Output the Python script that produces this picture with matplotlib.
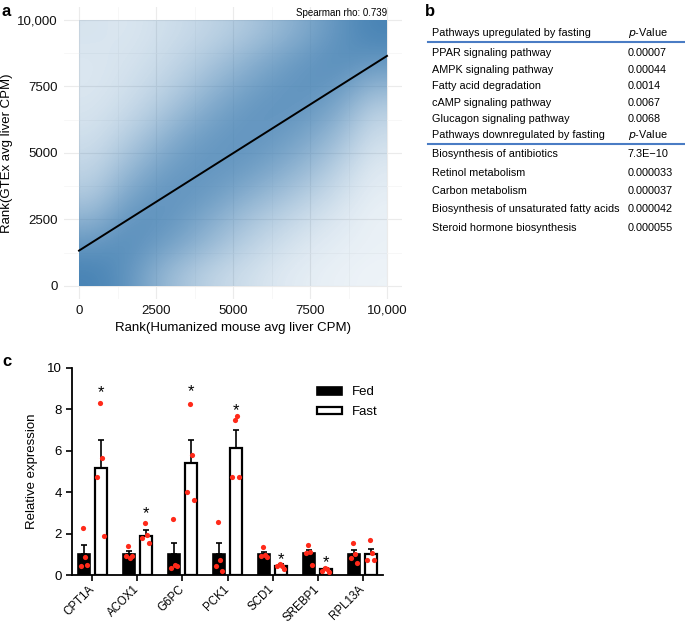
import numpy as np
import matplotlib
matplotlib.use("Agg")
import matplotlib.pyplot as plt
from matplotlib.colors import LinearSegmentedColormap

plt.rcParams['font.family'] = ['Liberation Sans', 'DejaVu Sans']

# ---- panel a: rank-rank density (points per 1000x1000 cell)
# rows from top (rank 9000-10000) to bottom (0-1000), columns x 0-1000 ... 9000-10000
rank_density = np.array([
    [25, 22, 28, 35, 45, 60, 85, 125, 200, 430],
    [22, 25, 32, 45, 65, 95, 135, 185, 235, 190],
    [22, 28, 40, 60, 95, 135, 180, 205, 170, 90],
    [25, 35, 55, 90, 135, 180, 195, 165, 105, 45],
    [30, 50, 85, 135, 175, 190, 160, 115, 70, 30],
    [40, 75, 125, 175, 185, 160, 115, 80, 45, 20],
    [55, 115, 180, 190, 150, 105, 75, 50, 30, 15],
    [95, 185, 210, 150, 100, 65, 45, 30, 20, 12],
    [190, 240, 160, 110, 70, 45, 30, 20, 15, 12],
    [480, 210, 100, 60, 40, 30, 20, 15, 12, 10],
])
fit_intercept = 1330
fit_slope = 0.732
spearman_rho = 0.739

# ---- panel b: pathway table
up_pathways = ["PPAR signaling pathway", "AMPK signaling pathway", "Fatty acid degradation",
               "cAMP signaling pathway", "Glucagon signaling pathway"]
up_pvals = ["0.00007", "0.00044", "0.0014", "0.0067", "0.0068"]
down_pathways = ["Biosynthesis of antibiotics", "Retinol metabolism", "Carbon metabolism",
                 "Biosynthesis of unsaturated fatty acids", "Steroid hormone biosynthesis"]
down_pvals = ["7.3E\u221210", "0.000033", "0.000037", "0.000042", "0.000055"]

# ---- panel c: qPCR
genes = ["CPT1A", "ACOX1", "G6PC", "PCK1", "SCD1", "SREBP1", "RPL13A"]
fed_mean = [1.0, 1.0, 1.0, 1.0, 1.0, 1.05, 1.0]
fed_err = [0.45, 0.15, 0.55, 0.52, 0.1, 0.15, 0.2]
fast_mean = [5.15, 1.9, 5.4, 6.15, 0.45, 0.27, 1.02]
fast_err = [1.35, 0.25, 1.1, 0.85, 0.1, 0.08, 0.25]
fed_pts = [[2.25, 0.85, 0.45, 0.48], [1.42, 0.82, 0.9, 0.92], [2.68, 0.5, 0.35, 0.45],
           [2.55, 0.7, 0.45, 0.2], [1.35, 0.95, 0.9, 0.88], [1.45, 1.1, 1.05, 0.5],
           [1.55, 1.0, 0.8, 0.6]]
fast_pts = [[8.3, 5.65, 4.75, 1.9], [2.5, 1.95, 1.8, 1.55], [8.25, 5.8, 4.0, 3.6],
            [7.5, 7.65, 4.75, 4.75], [0.55, 0.45, 0.45, 0.3], [0.35, 0.3, 0.2, 0.15],
            [1.7, 1.05, 0.7, 0.7]]
star_y = [8.8, 2.95, 8.85, 7.95, 0.75, 0.62, None]

W, H = 685, 624
fig = plt.figure(figsize=(W / 100, H / 100), dpi=100)

# ================= a
ax = fig.add_axes([63.6 / W, 1 - 299.3 / H, 338.8 / W, 292.6 / H])
cmap = LinearSegmentedColormap.from_list("pts", [(0.275, 0.51, 0.706, 0.0), (0.275, 0.51, 0.706, 1.0)])
cover = 1 - np.exp(-rank_density / 100.0)
ax.imshow(cover, cmap=cmap, vmin=0, vmax=1, extent=(0, 10000, 0, 10000),
          origin="upper", aspect="auto", interpolation="bicubic", zorder=2)
xs = np.array([0, 10000])
ax.plot(xs, fit_intercept + fit_slope * xs, color="black", lw=1.4, zorder=3)
ax.set_xlim(-500, 10500)
ax.set_ylim(-500, 10500)
ticks = [0, 2500, 5000, 7500, 10000]
tlabels = ["0", "2500", "5000", "7500", "10,000"]
ax.set_xticks(ticks)
ax.set_xticklabels(tlabels)
ax.set_yticks(ticks)
ax.set_yticklabels(tlabels)
ax.set_xticks([1250, 3750, 6250, 8750], minor=True)
ax.set_yticks([1250, 3750, 6250, 8750], minor=True)
ax.grid(True, which="major", color="#EBEBEB", lw=0.8, zorder=0)
ax.grid(True, which="minor", color="#F4F4F4", lw=0.5, zorder=0)
ax.set_axisbelow(True)
for s in ax.spines.values():
    s.set_visible(False)
ax.tick_params(which="both", length=0, labelsize=9.5, pad=4, colors="#111111")
ax.set_xlabel("Rank(Humanized mouse avg liver CPM)", fontsize=9.5, labelpad=4)
ax.set_ylabel("Rank(GTEx avg liver CPM)", fontsize=9.5, labelpad=3)
ax.text(10000, 10280, f"Spearman rho: {spearman_rho}", ha="right", va="center", fontsize=7)

# ================= overlay for letters and table (pixel coords)
ov = fig.add_axes([0, 0, 1, 1])
ov.set_xlim(0, W)
ov.set_ylim(H, 0)
ov.axis("off")
ov.patch.set_alpha(0)
ov.text(2, 11, "a", fontsize=12, fontweight="bold", va="center")
ov.text(425, 11, "b", fontsize=12, fontweight="bold", va="center")
ov.text(2, 362, "c", fontsize=12, fontweight="bold", va="center")

tx, px = 432, 628
fs = 7.8
blue = "#4A7CC4"
ov.text(tx, 33, "Pathways upregulated by fasting", fontsize=fs, va="center")
ov.text(px, 33, "$\\it{p}$-Value", fontsize=fs, va="center")
ov.plot([428, 685], [42, 42], color=blue, lw=1.5)
for i, (n, p) in enumerate(zip(up_pathways, up_pvals)):
    y = 53 + i * 16.6
    ov.text(tx, y, n, fontsize=fs, va="center")
    ov.text(px, y, p, fontsize=fs, va="center")
ov.text(tx, 135, "Pathways downregulated by fasting", fontsize=fs, va="center")
ov.text(px, 135, "$\\it{p}$-Value", fontsize=fs, va="center")
ov.plot([428, 685], [144, 144], color=blue, lw=1.5)
for i, (n, p) in enumerate(zip(down_pathways, down_pvals)):
    y = 154 + i * 18.5
    ov.text(tx, y, n, fontsize=fs, va="center")
    ov.text(px, y, p, fontsize=fs, va="center")

# ================= c
bx = fig.add_axes([72 / W, 1 - 575 / H, 311 / W, 207.3 / H])
x = np.arange(len(genes))
bw, off = 0.26, 0.185
bx.bar(x - off, fed_mean, bw, color="black", edgecolor="black", lw=1.2, label="Fed", zorder=2)
bx.bar(x + off, fast_mean, bw, color="white", edgecolor="black", lw=1.6, label="Fast", zorder=2)
bx.errorbar(x - off, fed_mean, yerr=[np.zeros(len(x)), fed_err], fmt="none", ecolor="black",
            elinewidth=1.2, capsize=2.5, capthick=1.2, zorder=1)
bx.errorbar(x + off, fast_mean, yerr=[np.zeros(len(x)), fast_err], fmt="none", ecolor="black",
            elinewidth=1.2, capsize=2.5, capthick=1.2, zorder=1)
jit = [-0.02, 0.02, -0.08, 0.07]
for i in range(len(genes)):
    bx.scatter(x[i] - off + np.array(jit), fed_pts[i], s=14, color="#FF2A1A", zorder=4, lw=0)
    bx.scatter(x[i] + off + np.array(jit), fast_pts[i], s=14, color="#FF2A1A", zorder=4, lw=0)
    if star_y[i] is not None:
        bx.text(x[i] + off, star_y[i], "*", ha="center", va="center", fontsize=12, zorder=5)
bx.set_xlim(-0.455, 6.455)
bx.set_ylim(0, 10)
bx.set_yticks([0, 2, 4, 6, 8, 10])
bx.set_xticks(x)
bx.set_xticklabels(genes, rotation=45, ha="right", va="center", rotation_mode="anchor")
bx.spines["top"].set_visible(False)
bx.spines["right"].set_visible(False)
bx.spines["left"].set_linewidth(1.3)
bx.spines["bottom"].set_linewidth(1.3)
bx.tick_params(axis="both", length=4, width=1.2, labelsize=9.5)
bx.tick_params(axis="x", pad=5, labelsize=8.3)
bx.set_ylabel("Relative expression", fontsize=9.5, labelpad=6)
bx.legend(loc="upper left", bbox_to_anchor=(0.77, 0.936), frameon=False, fontsize=9.5,
          handlelength=1.9, handleheight=0.55, borderaxespad=0.0, labelspacing=0.6)

fig.savefig("out.png", dpi=100)
